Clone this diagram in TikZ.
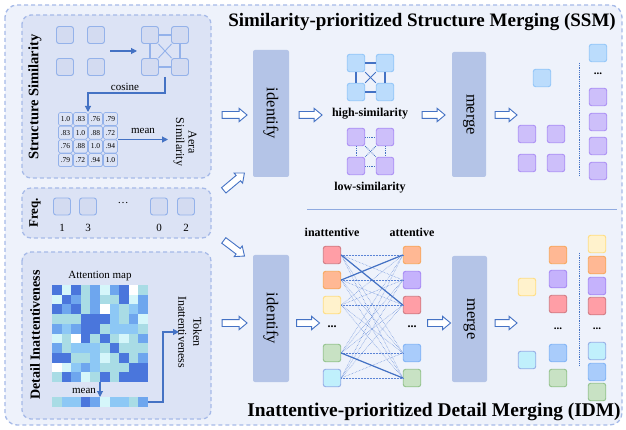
\documentclass[tikz,border=0pt]{standalone}
\usepackage{fontspec}
\setmainfont{Liberation Serif}
\usetikzlibrary{shapes.arrows,arrows.meta}
\definecolor{dashc}{HTML}{A6BAE8}
\definecolor{bgmain}{HTML}{EEF2FB}
\definecolor{bginner}{HTML}{DCE3F5}
\definecolor{lineblue}{HTML}{4472C4}
\definecolor{edgeblue}{HTML}{5B84D6}
\definecolor{procfill}{HTML}{B4C4E7}
\definecolor{gsqfill}{HTML}{D3DBF1}
\definecolor{gsqdraw}{HTML}{94B2EA}
\definecolor{sepc}{HTML}{8FAAE0}
\definecolor{redF}{HTML}{FF9EA6}\definecolor{redD}{HTML}{D07A82}
\definecolor{oraF}{HTML}{FFB894}\definecolor{oraD}{HTML}{F7A75C}
\definecolor{yelF}{HTML}{FFF2CC}\definecolor{yelD}{HTML}{FFDD80}
\definecolor{greF}{HTML}{C8E2C4}\definecolor{greD}{HTML}{92C28A}
\definecolor{cyaF}{HTML}{C0F0FC}\definecolor{cyaD}{HTML}{93ACE6}
\definecolor{bluF}{HTML}{A9CCFB}\definecolor{bluD}{HTML}{80B3F6}
\definecolor{purF}{HTML}{C5B2FC}\definecolor{purD}{HTML}{A688F4}
\definecolor{lbF}{HTML}{BBDCFC}\definecolor{lbD}{HTML}{92C6F8}
\definecolor{lpF}{HTML}{CDBFFA}\definecolor{lpD}{HTML}{AB8EF4}
\definecolor{attD}{HTML}{4A76DC}
\definecolor{attM}{HTML}{6EA6EE}
\definecolor{attL}{HTML}{8DC8F5}
\definecolor{attT}{HTML}{A9DCE5}
\definecolor{attP}{HTML}{D5F6FA}
\definecolor{attW}{HTML}{FFFFFF}
\tikzset{
  panel/.style={draw=dashc, dash pattern=on 4pt off 3pt, line width=1.3pt, rounded corners=9pt, fill=bginner},
  gsq/.style={draw=gsqdraw, fill=gsqfill, line width=0.9pt, rounded corners=2.5pt, minimum size=17pt, inner sep=0pt},
  csq/.style n args={2}{draw=#2, fill=#1, line width=0.9pt, rounded corners=2.5pt, minimum size=17.5pt, inner sep=0pt},
  mcell/.style={draw=gsqdraw, line width=0.7pt, rounded corners=1.5pt, minimum width=14pt, minimum height=13pt, inner sep=0pt, font=\fontsize{7.5}{8}\selectfont},
  proc/.style={fill=procfill, rounded corners=2pt, rotate=-90, inner sep=0pt, font=\fontsize{16.5}{18}\selectfont},
  harrow/.style={single arrow, draw=lineblue, fill=white, line width=0.9pt, inner xsep=0pt, inner ysep=3pt, single arrow head extend=3.2pt, single arrow tip angle=80, minimum height=25pt},
  vlabel/.style={rotate=90, font=\bfseries\fontsize{14.5}{16}\selectfont},
  arr/.style={draw=lineblue, line width=1.1pt, -{Triangle[length=6pt,width=6pt]}},
  gedge/.style={draw=gsqdraw, line width=1.3pt},
  hedge/.style={draw=lineblue, line width=1.5pt},
  ldedge/.style={draw=lineblue, line width=0.8pt, densely dotted},
  bip/.style={draw=edgeblue, line width=0.5pt, densely dotted},
  bips/.style={draw=lineblue, line width=1.2pt},
  small/.style={font=\fontsize{11}{13}\selectfont},
  blabel/.style={font=\bfseries\fontsize{12}{14}\selectfont},
  vdots/.style={draw=lineblue, line width=0.8pt, densely dotted},
}
\begin{document}
\begin{tikzpicture}[x=1pt,y=-1pt]
\useasboundingbox (0,0) rectangle (626,430);
% outer frame
\draw[draw=dashc, dash pattern=on 4pt off 3pt, line width=1.3pt, rounded corners=12pt, fill=bgmain] (5,5) rectangle (622,425);
% left panels
\draw[panel] (22,15) rectangle (211,178);
\draw[panel] (22,188) rectangle (211,238);
\draw[panel] (22,252) rectangle (211,419);

% ---- Structure Similarity
\node[vlabel] (lblss) at (35,97) {Structure Similarity};
\node[gsq] (s1) at (65,35) {};
\node[gsq] (s2) at (96,35) {};
\node[gsq] (s3) at (65,67) {};
\node[gsq] (s4) at (96,67) {};
\node[gsq] (g1) at (150,35) {};
\node[gsq] (g2) at (180,35) {};
\node[gsq] (g3) at (150,67) {};
\node[gsq] (g4) at (180,67) {};
\draw[gedge] (g1) -- (g2);
\draw[gedge] (g3) -- (g4);
\draw[gedge] (g1) -- (g3);
\draw[gedge] (g2) -- (g4);
\draw[gedge, line width=0.9pt] (g1) -- (g4);
\draw[gedge, line width=0.9pt] (g2) -- (g3);
\coordinate (sa) at (110,51);
\coordinate (sb) at (137,51);
\draw[arr] (sa) -- (sb);
% matrix
\foreach \row [count=\r] in {{1.0,.83,.76,.79},{.83,1.0,.88,.72},{.76,.88,1.0,.94},{.79,.72,.94,1.0}} {
  \foreach \v [count=\c] in \row {
    \node[mcell] (m\r\c) at ({65.5+(\c-1)*15},{119+(\r-1)*13.7}) {\v};
  }
}
\coordinate (cs0) at (165,77);
\coordinate (cs1) at (165,93);
\coordinate (cs2) at (88,93);
\coordinate (cs3) at (88,112);
\draw[arr] (cs0) -- (cs1) -- (cs2) -- (cs3);
\node[small] (cosine) at (125,87) {cosine};
\coordinate (mn0) at (118,139.5);
\coordinate (mn1) at (168,139.5);
\draw[arr] (mn0) -- (mn1);
\node[small] (meanA) at (143,131) {mean};
\node[rotate=-90, align=center, font=\fontsize{12}{12.5}\selectfont] (aera) at (185,142) {Aera\\Similarity};

% ---- Freq
\node[vlabel, font=\bfseries\fontsize{13}{15}\selectfont] (lblfq) at (35,213) {Freq.};
\node[gsq] (f1) at (62,206.5) {};
\node[gsq] (f2) at (88,206.5) {};
\node[gsq] (f3) at (159,206.5) {};
\node[gsq] (f4) at (186,206.5) {};
\node[small] (fd) at (123,203) {…};
\node[small] (n1) at (62,228) {1};
\node[small] (n2) at (88,228) {3};
\node[small] (n3) at (159,228) {0};
\node[small] (n4) at (186,228) {2};

% ---- Detail Inattentiveness
\node[vlabel, font=\bfseries\fontsize{14}{16}\selectfont] (lbldi) at (35,335) {Detail Inattentiveness};
\node[small] (attlbl) at (100,276) {Attention map};
\foreach \row [count=\r] in {
 {D,P,D,T,M,P,M,D,W,T},
 {P,D,M,T,M,T,T,D,P,M},
 {D,M,D,T,M,W,L,T,L,M},
 {T,T,T,D,D,D,L,T,M,P},
 {M,L,M,D,D,T,L,L,L,T},
 {P,T,W,D,T,D,T,P,T,M},
 {M,T,L,L,L,T,D,T,T,T},
 {D,D,T,T,L,P,T,D,T,M},
 {W,P,L,M,L,T,T,T,D,D},
 {T,D,M,P,T,D,T,D,D,D}} {
  \foreach \cc [count=\k] in \row {
    \fill[att\cc] ({52+(\k-1)*9.6},{285+(\r-1)*9.7}) rectangle ++(9.6,9.7);
  }
}
\foreach \cc [count=\k] in {T,L,L,D,M,P,L,L,T,M} {
  \fill[att\cc] ({52+(\k-1)*9.6},397) rectangle ++(9.6,10);
}
\coordinate (at0) at (100,382);
\coordinate (at1) at (100,397);
\draw[arr] (at0) -- (at1);
\node[small] (meanB) at (84,391) {mean};
\coordinate (tk0) at (148,402);
\coordinate (tk1) at (163,402);
\coordinate (tk2) at (163,332);
\coordinate (tk3) at (179,332);
\draw[arr] (tk0) -- (tk1) -- (tk2) -- (tk3);
\node[rotate=-90, align=center, font=\fontsize{12}{15}\selectfont] (token) at (190,332) {Token\\Inattentiveness};

% ---- hollow arrows from left
\node[harrow] (a1) at (232.5,115) {};
\node[harrow, rotate=40, minimum height=27pt] (d1) at (232.5,183) {};
\node[harrow, rotate=-37, minimum height=26pt] (d2) at (232.5,247) {};
\node[harrow] (b1) at (232.5,323) {};

% ---- SSM
\node[font=\bfseries\fontsize{19}{21}\selectfont] (ssm) at (422,22) {Similarity-prioritized Structure Merging (SSM)};
\node[proc, minimum width=127pt, minimum height=36pt] (id1) at (271,113.5) {identify};
\node[harrow, minimum height=23pt] (a2) at (308.5,115) {};
\node[csq={lbF}{lbD}] (h1) at (356,63) {};
\node[csq={lbF}{lbD}] (h2) at (385,63) {};
\node[csq={lbF}{lbD}] (h3) at (356,92) {};
\node[csq={lbF}{lbD}] (h4) at (385,92) {};
\draw[hedge] (h1) -- (h2);
\draw[hedge] (h3) -- (h4);
\draw[hedge] (h1) -- (h3);
\draw[hedge] (h2) -- (h4);
\draw[hedge, line width=0.9pt] (h1) -- (h4);
\draw[hedge, line width=0.9pt] (h2) -- (h3);
\node[blabel] (hs) at (370,114) {high-similarity};
\node[csq={lpF}{lpD}] (w1) at (356,137) {};
\node[csq={lpF}{lpD}] (w2) at (385,137) {};
\node[csq={lpF}{lpD}] (w3) at (356,166) {};
\node[csq={lpF}{lpD}] (w4) at (385,166) {};
\draw[ldedge] (w1) -- (w2);
\draw[ldedge] (w3) -- (w4);
\draw[ldedge] (w1) -- (w3);
\draw[ldedge] (w2) -- (w4);
\draw[ldedge] (w1) -- (w4);
\draw[ldedge] (w2) -- (w3);
\node[blabel] (ls) at (370,188) {low-similarity};
\node[harrow, minimum height=23pt] (a3) at (431.5,115) {};
\node[proc, minimum width=125pt, minimum height=34pt] (mg1) at (469,114.5) {merge};
\node[harrow, minimum height=22pt] (a4) at (504,115) {};
\node[csq={lbF}{lbD}] (o1) at (542,78) {};
\node[csq={lpF}{lpD}] (o2) at (527,134) {};
\node[csq={lpF}{lpD}] (o3) at (556,134) {};
\node[csq={lpF}{lpD}] (o4) at (527,163) {};
\node[csq={lpF}{lpD}] (o5) at (556,163) {};
\coordinate (v1a) at (579,63);
\coordinate (v1b) at (579,175);
\draw[vdots] (v1a) -- (v1b);
\node[csq={lbF}{lbD}] (q1) at (598,53) {};
\node[font=\bfseries\fontsize{11}{12}\selectfont] (qd) at (598,74) {...};
\node[csq={lpF}{lpD}] (q2) at (598,97) {};
\node[csq={lpF}{lpD}] (q3) at (598,122) {};
\node[csq={lpF}{lpD}] (q4) at (598,146) {};
\node[csq={lpF}{lpD}] (q5) at (598,171) {};

% separator
\coordinate (sp1) at (307,210);
\coordinate (sp2) at (617,210);
\draw[draw=sepc, line width=1pt] (sp1) -- (sp2);

% ---- IDM
\node[proc, minimum width=127pt, minimum height=36pt] (id2) at (271,318.5) {identify};
\node[harrow, minimum height=23pt] (b2) at (306,323) {};
\node[blabel] (inatt) at (332,232) {inattentive};
\node[blabel] (att) at (412,232) {attentive};
\node[csq={redF}{redD}] (l1) at (332,255) {};
\node[csq={oraF}{oraD}] (l2) at (332,280) {};
\node[csq={yelF}{yelD}] (l3) at (332,305) {};
\node[csq={greF}{greD}] (l4) at (332,353) {};
\node[csq={cyaF}{cyaD}] (l5) at (332,378) {};
\node[csq={oraF}{oraD}] (r1) at (412,255) {};
\node[csq={purF}{purD}] (r2) at (412,280) {};
\node[csq={redF}{redD}] (r3) at (412,305) {};
\node[csq={bluF}{bluD}] (r4) at (412,353) {};
\node[csq={greF}{greD}] (r5) at (412,378) {};
\node[font=\bfseries\fontsize{12}{12}\selectfont] (ld) at (332,327) {...};
\node[font=\bfseries\fontsize{12}{12}\selectfont] (rd) at (412,327) {...};
\foreach \i in {1,...,5} {
  \foreach \j in {1,...,5} {
    \draw[bip] (l\i.east) -- (r\j.west);
  }
}
\draw[bips] (l1.east) -- (r3.west);
\draw[bips] (l2.east) -- (r1.west);
\draw[bips] (l4.east) -- (r5.west);
\node[harrow, minimum height=23pt] (b3) at (437,323) {};
\node[proc, minimum width=126pt, minimum height=35pt] (mg2) at (469.5,319) {merge};
\node[harrow, minimum height=22pt] (b4) at (504,323) {};
\node[csq={yelF}{yelD}] (p1) at (527,287) {};
\node[csq={cyaF}{cyaD}] (p2) at (527,360) {};
\node[csq={oraF}{oraD}] (c1) at (558,255) {};
\node[csq={purF}{purD}] (c2) at (558,279) {};
\node[csq={redF}{redD}] (c3) at (558,304) {};
\node[font=\bfseries\fontsize{11}{12}\selectfont] (cd) at (558,329) {...};
\node[csq={bluF}{bluD}] (c4) at (558,353) {};
\node[csq={greF}{greD}] (c5) at (558,378) {};
\coordinate (v2a) at (579,253);
\coordinate (v2b) at (579,366);
\draw[vdots] (v2a) -- (v2b);
\node[csq={yelF}{yelD}] (e1) at (597,244) {};
\node[csq={oraF}{oraD}] (e2) at (597,265) {};
\node[csq={purF}{purD}] (e3) at (597,286) {};
\node[csq={redF}{redD}] (e4) at (597,306) {};
\node[font=\bfseries\fontsize{11}{12}\selectfont] (ed) at (597,329) {...};
\node[csq={cyaF}{cyaD}] (e5) at (597,351) {};
\node[csq={bluF}{bluD}] (e6) at (597,372) {};
\node[csq={greF}{greD}] (e7) at (597,392) {};
\node[font=\bfseries\fontsize{19.4}{21}\selectfont] (idm) at (434,412) {Inattentive-prioritized Detail Merging (IDM)};
\end{tikzpicture}
\end{document}
